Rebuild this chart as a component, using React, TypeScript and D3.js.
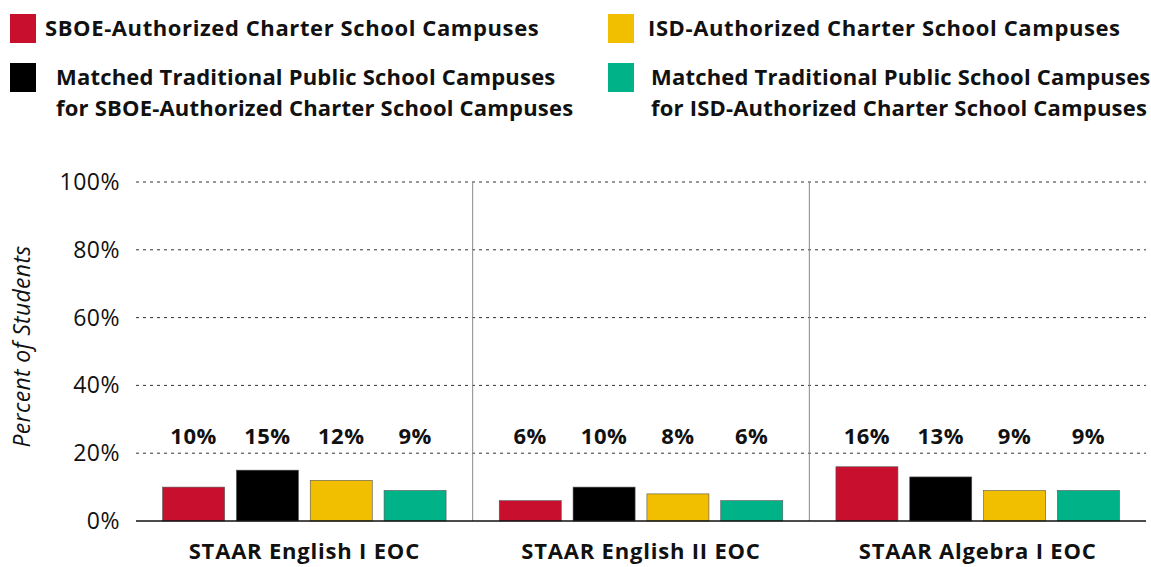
import * as d3 from "d3";
import { useEffect, useRef } from "react";

const subjects = ["STAAR English I EOC", "STAAR English II EOC", "STAAR Algebra I EOC"];
const seriesNames = [
  "SBOE-Authorized Charter School Campuses",
  "Matched Traditional Public School Campuses for SBOE-Authorized Charter School Campuses",
  "ISD-Authorized Charter School Campuses",
  "Matched Traditional Public School Campuses for ISD-Authorized Charter School Campuses",
];
const sboeCharter = [10, 6, 16];
const sboeMatched = [15, 10, 13];
const isdCharter = [12, 8, 9];
const isdMatched = [9, 6, 9];
const yTicks = [0, 20, 40, 60, 80, 100];

const colors = ["#C8102E", "#000000", "#F2BE00", "#00B288"];
const FONT = "'Open Sans', Lato, sans-serif";

const App = () => {
  const svgRef = useRef<SVGSVGElement>(null);

  useEffect(() => {
    const width = 1151;
    const height = 567;
    const margin = { top: 182, right: 5, bottom: 46, left: 136 };

    const svg = d3.select(svgRef.current).attr("width", width).attr("height", height);
    svg.selectAll("*").remove();

    const series = [sboeCharter, sboeMatched, isdCharter, isdMatched];
    const data = subjects.map((s, i) => ({
      subject: s,
      values: series.map((arr, k) => ({ key: k, value: arr[i] })),
    }));

    const x0 = d3.scaleBand().domain(subjects).range([margin.left, width - margin.right]).padding(0);
    const x1 = d3
      .scaleBand<number>()
      .domain([0, 1, 2, 3])
      .range([0, x0.bandwidth()])
      .paddingInner(0.16)
      .paddingOuter(0.36);
    const y = d3.scaleLinear().domain([0, 100]).range([height - margin.bottom, margin.top]);

    // legend
    const legendItems = [
      { x: 10, y: 14, lines: [seriesNames[0]], color: colors[0], tx: 45, ls: 0.6 },
      { x: 608, y: 14, lines: [seriesNames[2]], color: colors[2], tx: 648, ls: 0.6 },
      {
        x: 10,
        y: 63,
        lines: ["Matched Traditional Public School Campuses", "for SBOE-Authorized Charter School Campuses"],
        color: colors[1],
        tx: 56,
        ls: 0.2,
      },
      {
        x: 608,
        y: 63,
        lines: ["Matched Traditional Public School Campuses", "for ISD-Authorized Charter School Campuses"],
        color: colors[3],
        tx: 651,
        ls: 0.2,
      },
    ];
    const lg = svg.append("g");
    legendItems.forEach((it) => {
      lg.append("rect")
        .attr("x", it.x)
        .attr("y", it.y)
        .attr("width", 26)
        .attr("height", 29)
        .attr("fill", it.color);
      it.lines.forEach((line, j) => {
        lg.append("text")
          .attr("x", it.tx)
          .attr("y", it.y + 14 + j * 31)
          .attr("dy", "0.35em")
          .attr("font-family", FONT)
          .attr("font-weight", "bold")
          .attr("font-size", 22)
          .attr("letter-spacing", it.ls)
          .attr("fill", "#111")
          .text(line);
      });
    });

    // grid lines
    svg
      .append("g")
      .selectAll("line")
      .data(yTicks.filter((t) => t > 0))
      .enter()
      .append("line")
      .attr("x1", margin.left)
      .attr("x2", width - margin.right)
      .attr("y1", (d) => y(d))
      .attr("y2", (d) => y(d))
      .attr("stroke", "#333")
      .attr("stroke-width", 1)
      .attr("stroke-dasharray", "3,4");

    // y tick labels
    svg
      .append("g")
      .selectAll("text")
      .data(yTicks)
      .enter()
      .append("text")
      .attr("x", 120)
      .attr("y", (d) => y(d))
      .attr("dy", "0.35em")
      .attr("text-anchor", "end")
      .attr("font-family", FONT)
      .attr("font-size", 23)
      .attr("letter-spacing", 0.5)
      .attr("fill", "#111")
      .text((d) => d + "%");

    // y axis title
    svg
      .append("text")
      .attr("transform", `translate(30, ${(y(0) + y(100)) / 2 - 5}) rotate(-90)`)
      .attr("text-anchor", "middle")
      .attr("font-family", FONT)
      .attr("font-style", "italic")
      .attr("font-size", 23)
      .attr("letter-spacing", 0.3)
      .attr("fill", "#111")
      .text("Percent of Students");

    // group separators
    svg
      .append("g")
      .selectAll("line")
      .data(subjects.slice(1))
      .enter()
      .append("line")
      .attr("x1", (d) => x0(d)!)
      .attr("x2", (d) => x0(d)!)
      .attr("y1", y(100))
      .attr("y2", y(0))
      .attr("stroke", "#8a8a8a")
      .attr("stroke-width", 1);

    // bars
    const groups = svg
      .append("g")
      .selectAll("g")
      .data(data)
      .enter()
      .append("g")
      .attr("transform", (d) => `translate(${x0(d.subject)}, 0)`);

    groups
      .selectAll("rect")
      .data((d) => d.values)
      .enter()
      .append("rect")
      .attr("x", (d) => x1(d.key)!)
      .attr("width", x1.bandwidth())
      .attr("y", (d) => y(d.value))
      .attr("height", (d) => y(0) - y(d.value))
      .attr("fill", (d) => colors[d.key])
      .attr("stroke", "#555")
      .attr("stroke-width", 0.6);

    groups
      .selectAll("text.val")
      .data((d) => d.values)
      .enter()
      .append("text")
      .attr("class", "val")
      .attr("x", (d) => x1(d.key)! + x1.bandwidth() / 2)
      .attr("y", 436)
      .attr("dy", "0.35em")
      .attr("text-anchor", "middle")
      .attr("font-family", FONT)
      .attr("font-weight", "bold")
      .attr("font-size", 22)
      .attr("letter-spacing", 0.5)
      .attr("fill", "#111")
      .text((d) => d.value + "%");

    // baseline
    svg
      .append("line")
      .attr("x1", margin.left)
      .attr("x2", width - margin.right)
      .attr("y1", y(0))
      .attr("y2", y(0))
      .attr("stroke", "#111")
      .attr("stroke-width", 1.5);

    // category labels
    svg
      .append("g")
      .selectAll("text")
      .data(subjects)
      .enter()
      .append("text")
      .attr("x", (d) => x0(d)! + x0.bandwidth() / 2)
      .attr("y", 551)
      .attr("dy", "0.35em")
      .attr("text-anchor", "middle")
      .attr("font-family", FONT)
      .attr("font-weight", "bold")
      .attr("font-size", 22)
      .attr("letter-spacing", 0.8)
      .attr("fill", "#111")
      .text((d) => d);
  }, []);

  return <svg ref={svgRef} style={{ position: "absolute", left: 0, top: 0 }}></svg>;
};

export default App;
